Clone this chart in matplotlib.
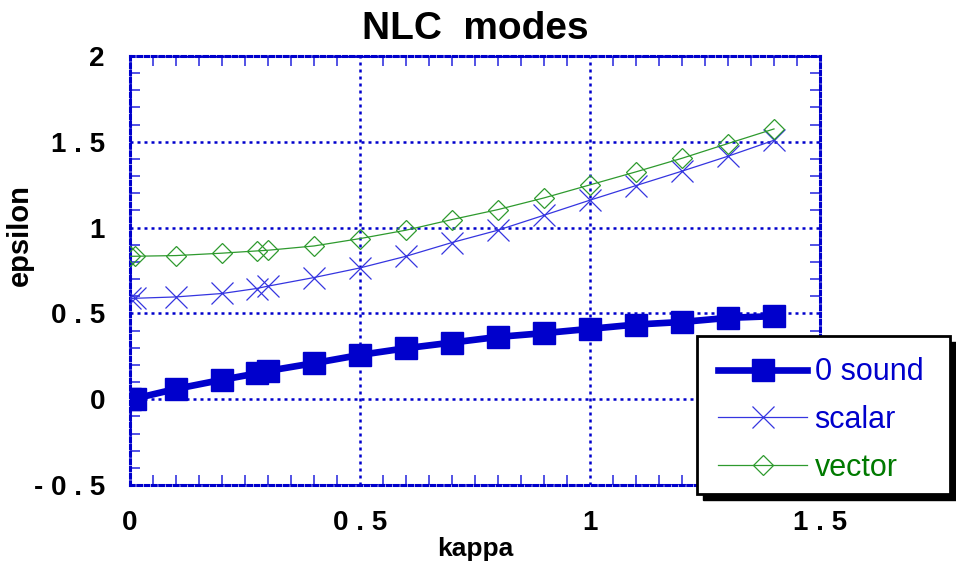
import matplotlib
matplotlib.use("Agg")
import matplotlib.pyplot as plt
from matplotlib.ticker import MultipleLocator, FixedLocator
from matplotlib.patches import Rectangle

kappa = [0.0, 0.01, 0.1, 0.2, 0.275, 0.3, 0.4, 0.5, 0.6, 0.7, 0.8, 0.9, 1.0, 1.1, 1.2, 1.3, 1.4]
sound = [0.0, 0.003, 0.06, 0.113, 0.15, 0.165, 0.21, 0.258, 0.297, 0.33, 0.363, 0.385, 0.41, 0.435, 0.45, 0.474, 0.484]
scalar = [0.587, 0.588, 0.596, 0.616, 0.645, 0.659, 0.709, 0.765, 0.833, 0.913, 0.985, 1.072, 1.16, 1.245, 1.329, 1.416, 1.509]
vector = [0.833, 0.833, 0.837, 0.851, 0.864, 0.868, 0.893, 0.936, 0.985, 1.047, 1.105, 1.173, 1.249, 1.325, 1.404, 1.49, 1.575]

xticks = [0, 0.5, 1.0, 1.5]
xticklabels = ["0", "0 . 5", "1", "1 . 5"]
yticks = [-0.5, 0, 0.5, 1.0, 1.5, 2.0]
yticklabels = ["- 0 . 5", "0", "0 . 5", "1", "1 . 5", "2"]

plt.rcParams['font.family'] = ['Liberation Sans', 'DejaVu Sans']

BLUE = "#0000CC"
LBLUE = "#3535E0"
GREEN = "#2E9A2E"

fig = plt.figure(figsize=(9.56, 5.61), dpi=100)
ax = fig.add_axes([130/956, 1-485/561, 690/956, 429/561])

ax.plot(kappa, sound, color=BLUE, lw=4.8, marker='s', ms=16, label='0 sound', zorder=5)
ax.plot(kappa, scalar, color=LBLUE, lw=0.9, marker='x', ms=16, mew=0.9, label='scalar', zorder=4)
ax.plot(kappa, vector, color=GREEN, lw=0.9, marker='D', ms=10, mfc='none', mew=0.9, label='vector', zorder=4)

ax.set_xlim(0, 1.5)
ax.set_ylim(-0.5, 2.0)
ax.xaxis.set_major_locator(FixedLocator(xticks))
ax.yaxis.set_major_locator(FixedLocator(yticks))
ax.set_xticklabels(xticklabels, fontsize=20, fontweight='bold')
ax.set_yticklabels(yticklabels, fontsize=20, fontweight='bold')
ax.xaxis.set_minor_locator(MultipleLocator(0.05))
ax.yaxis.set_minor_locator(MultipleLocator(0.1))
ax.tick_params(which='major', direction='in', length=0, pad=18, colors='black')
ax.tick_params(which='minor', direction='in', length=7, width=1.2, color=LBLUE,
               top=True, right=True, bottom=True, left=True)
ax.grid(True, which='major', color=BLUE, linestyle=(0, (1.2, 1.6)), linewidth=1.8)
for s in ax.spines.values():
    s.set_color(BLUE)
    s.set_linestyle((0, (1.2, 1.2)))
    s.set_linewidth(2.2)

ax.set_title("NLC  modes", fontsize=28, fontweight='bold', pad=12)
ax.set_xlabel("kappa", fontsize=19, fontweight='bold')
ax.xaxis.set_label_coords(0.5, -0.122)
ax.set_ylabel("epsilon", fontsize=21, fontweight='bold')
ax.yaxis.set_label_coords(-0.139, 0.583)

leg_x0, leg_y1 = 697/956, 1-336/561
leg_w, leg_h = 253/956, 158/561
shadow = Rectangle((leg_x0 + 6/956, leg_y1 - leg_h - 6/561), leg_w, leg_h,
                   transform=fig.transFigure, facecolor='black', edgecolor='black',
                   zorder=9, clip_on=False)
box = Rectangle((leg_x0, leg_y1 - leg_h), leg_w, leg_h, transform=fig.transFigure,
                facecolor='white', edgecolor='black', linewidth=2, zorder=10, clip_on=False)
ax.add_artist(shadow)
ax.add_artist(box)

leg = ax.legend(loc='upper left', bbox_to_anchor=(leg_x0, leg_y1), bbox_transform=fig.transFigure,
                frameon=False, fontsize=22, handlelength=2.9, handletextpad=0.25,
                labelspacing=0.58, borderaxespad=0.3, borderpad=0.4)
leg.set_zorder(11)
for t, c in zip(leg.get_texts(), [BLUE, BLUE, "#007A00"]):
    t.set_color(c)

fig.savefig("out.png", dpi=100)
